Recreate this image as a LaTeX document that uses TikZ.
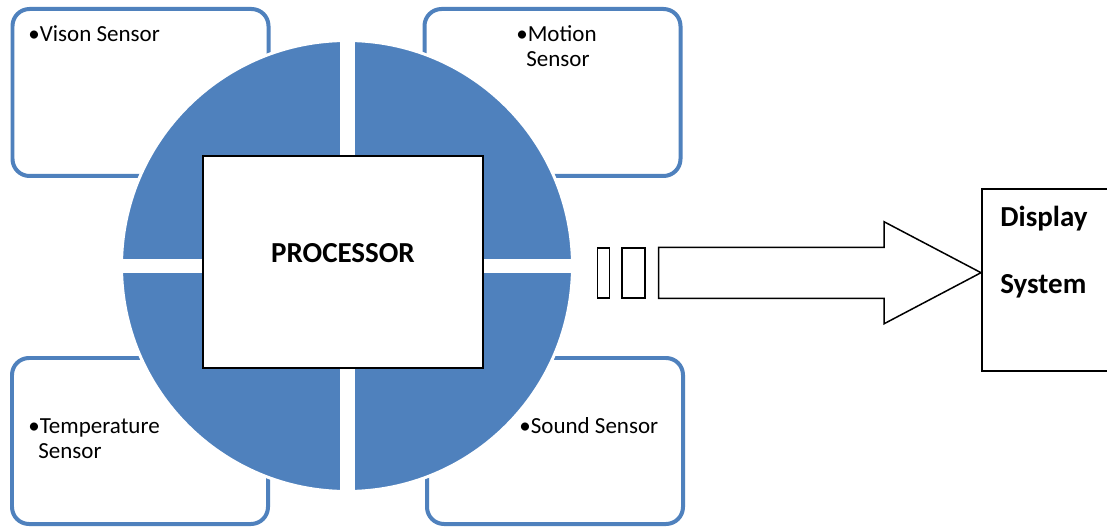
\documentclass[tikz,border=0pt]{standalone}
\usepackage{fontspec}
\setmainfont{Carlito}
\def\pxl{0.02cm}
\definecolor{qblue}{RGB}{79,129,189}
\tikzset{
  sensorbox/.style={draw=qblue, fill=white, line width=0.08cm, rounded corners=0.34cm,
    minimum width={256*\pxl}, minimum height={167*\pxl}, inner sep=0pt},
  sensortext/.style={anchor=base west, inner sep=0pt, font=\fontsize{13.1pt}{15pt}\selectfont},
  boldtext/.style={inner sep=0pt, font=\fontsize{16.5pt}{19pt}\selectfont\bfseries},
  blackbox/.style={draw=black, fill=white, line width=0.04cm, inner sep=0pt},
  outline/.style={draw=black, line width=0.03cm, line join=miter},
}
\begin{document}
\begin{tikzpicture}[x=0.02cm, y=-0.02cm]
\clip (0,0) rectangle (1107,527);
\fill[white] (0,0) rectangle (1107,527);

% sensor boxes behind the hub
\node[sensorbox] (vision) at (140.5,92.5) {};
\node[sensorbox] (motion) at (552.5,92.5) {};
\node[sensorbox, minimum height={166*\pxl}] (temp) at (140,441) {};
\node[sensorbox, minimum height={166*\pxl}] (sound) at (555,441) {};

\node[sensortext] (visiont) at (28,42) {•Vison Sensor};
\node[sensortext] (motiont1) at (516,41.7) {•Motion};
\node[sensortext] (motiont2) at (526,66.7) {Sensor};
\node[sensortext] (tempt1) at (28,433) {•Temperature};
\node[sensortext] (tempt2) at (38,459) {Sensor};
\node[sensortext] (soundt) at (519,433) {•Sound Sensor};

% four-part hub
\node[circle, fill=qblue, draw=white, line width=0.06cm, inner sep=0pt,
      minimum size={451*\pxl}] (hub) at (347,266) {};
\begin{scope}
  \clip (hub.center) circle (225.5);
  \fill[white] (340,0) rectangle (355,527);
  \fill[white] (0,259) rectangle (1107,273.5);
\end{scope}

% processor
\node[blackbox, minimum width={280*\pxl}, minimum height={212*\pxl}] (proc) at (343,262) {};
\node[boldtext, anchor=base] (proct) at (343,262.3) {PROCESSOR};

% block arrow towards the display
\node[blackbox, line width=0.03cm, minimum width={12*\pxl}, minimum height={50*\pxl}] (bar1) at (603.7,272.8) {};
\node[blackbox, line width=0.03cm, minimum width={23*\pxl}, minimum height={50*\pxl}] (bar2) at (633.7,272.8) {};

\node[blackbox, anchor=north west, minimum width={160*\pxl}, minimum height={182*\pxl}] (disp) at (981,188) {};
\coordinate (tip) at (disp.west |- 0,272.7);
\coordinate (tail) at (658.5,272.8);
\draw[outline] (tail |- 0,247.3) -- (884,247.3) -- (884,221.7) -- (tip)
  -- (884,323.8) -- (884,298.3) -- (tail |- 0,298.3) -- cycle;

\node[boldtext, anchor=base west] (dispt1) at (1000,226.7) {Display};
\node[boldtext, anchor=base west] (dispt2) at (1000,294) {System};
\end{tikzpicture}
\end{document}
